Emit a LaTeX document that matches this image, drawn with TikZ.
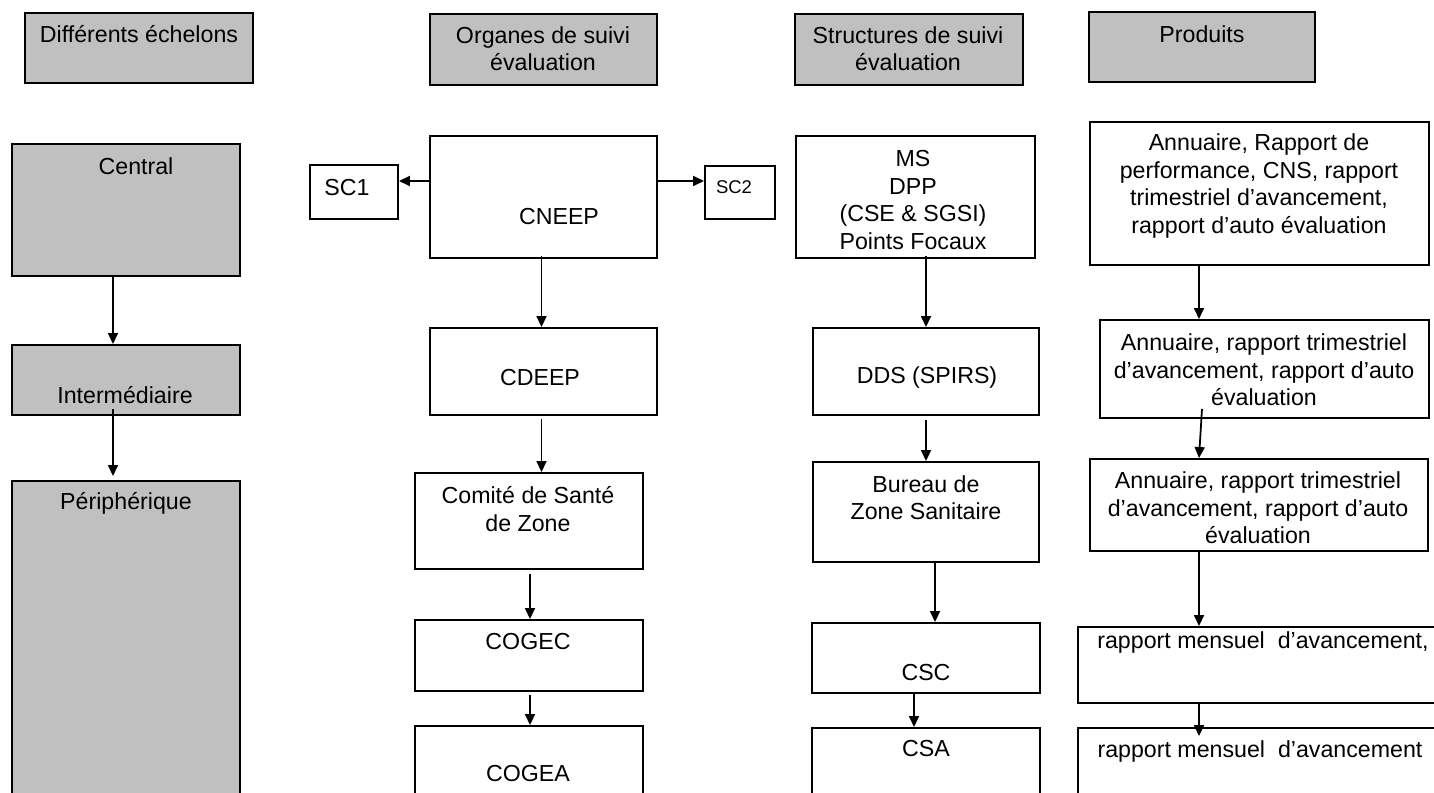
\documentclass[tikz,border=0pt]{standalone}
\usepackage{fontspec}
\setmainfont{Liberation Sans}
\usepackage{xcolor}
\usepackage{tikz}
\usetikzlibrary{arrows.meta,positioning,calc,fit}
\definecolor{hgray}{HTML}{C0C0C0}
\tikzset{
  % plain framed box, grey ones for headers and levels
  box/.style   = {rectangle, draw=black, fill=#1, line width=1.1pt, inner sep=0pt},
  box/.default = white,
  lbl/.style   = {font=\fontsize{13.2}{15.6}\selectfont, align=center, inner sep=0pt},
  small/.style = {font=\fontsize{10.5}{12.5}\selectfont, inner sep=0pt},
  arr/.style   = {-{Triangle[length=2.2mm,width=2mm]}, line width=1pt},
}
\begin{document}
\begin{tikzpicture}[x=0.02cm,y=-0.02cm]
\useasboundingbox (0,0) rectangle (1434,793);
\clip (0,0) rectangle (1434,793);
% column headers
\node[box=hgray, fit={(25,13) (253,83)}]   (h1) {};
\node[box=hgray, fit={(430,14) (657,85)}]  (h2) {};
\node[box=hgray, fit={(795,14) (1023,85)}] (h3) {};
\node[box=hgray, fit={(1089,12) (1315,82)}] (h4) {};
\node[lbl] (h1t) at (139,34) {Différents échelons};
\node[lbl] (h2t) at (543,49) {Organes de suivi\\évaluation};
\node[lbl] (h3t) at (908,49) {Structures de suivi\\évaluation};
\node[lbl] (h4t) at (1202,34) {Produits};
% levels
\node[box=hgray, fit={(12,144) (240,276)}] (central) {};
\node[box=hgray, fit={(12,345) (240,415)}] (inter) {};
\node[box=hgray, fit={(12,481) (240,800)}] (peri) {};
\node[lbl] (centralt) at (136,166) {Central};
\node[lbl] (intert) at (125,395) {Intermédiaire};
\node[lbl] (perit) at (126,503) {Périphérique};
% organes
\node[box, fit={(310,165) (398,219)}]  (sc1) {};
\node[box, fit={(430,136) (657,258)}]  (cneep) {};
\node[box, fit={(705,166) (775,219)}]  (sc2) {};
\node[box, fit={(430,328) (657,415)}]  (cdeep) {};
\node[box, fit={(415,473) (643,569)}]  (comite) {};
\node[box, fit={(415,620) (643,691)}]  (cogec) {};
\node[box, fit={(415,726) (643,800)}]  (cogea) {};
\node[lbl] (sc1t) at (347,188) {SC1};
\node[lbl] (cneept) at (559,217) {CNEEP};
\node[small] (sc2t) at (734,187) {SC2};
\node[lbl] (cdeept) at (540,378) {CDEEP};
\node[lbl] (comitet) at (528,509) {Comité de Santé\\de Zone};
\node[lbl] (cogect) at (528,642) {COGEC};
\node[lbl] (cogeat) at (528,774) {COGEA};
% structures
\node[box, fit={(796,136) (1035,258)}] (ms) {};
\node[box, fit={(813,328) (1039,415)}] (dds) {};
\node[box, fit={(813,462) (1039,562)}] (bureau) {};
\node[box, fit={(812,623) (1040,693)}] (csc) {};
\node[box, fit={(812,728) (1040,800)}] (csa) {};
\node[lbl] (mst) at (913,200) {MS\\DPP\\(CSE \& SGSI)\\Points Focaux};
\node[lbl] (ddst) at (927,378) {DDS (SPIRS)};
\node[lbl] (bureaut) at (926,498) {Bureau de\\Zone Sanitaire};
\node[lbl] (csct) at (926,673) {CSC};
\node[lbl] (csat) at (926,749) {CSA};
% produits
\node[box, fit={(1090,122) (1429,265)}] (p1) {};
\node[box, fit={(1100,320) (1429,418)}] (p2) {};
\node[box, fit={(1090,459) (1428,551)}] (p3) {};
\node[box, fit={(1078,627) (1445,703)}] (p4) {};
\node[box, fit={(1078,728) (1445,800)}] (p5) {};
\node[lbl] (p1t) at (1259,186) {Annuaire, Rapport de\\performance, CNS, rapport\\trimestriel d’avancement,\\rapport d’auto évaluation};
\node[lbl] (p2t) at (1264,370) {Annuaire, rapport trimestriel\\d’avancement, rapport d’auto\\évaluation};
\node[lbl] (p3t) at (1258,508) {Annuaire, rapport trimestriel\\d’avancement, rapport d’auto\\évaluation};
\node[lbl] (p4t) at (1263,643) {rapport mensuel~ d’avancement,};
\node[lbl] (p5t) at (1260,752) {rapport mensuel~ d’avancement};
% connectors
\coordinate (pcol) at (1199,0);
\path (cneep.west) ++(0,-16) coordinate (lvl);
\draw[arr] ($(central.south)+(-13,0)$) -- ($(inter.north)+(-13,0)$);
\draw[arr] ($(inter.south)+(-13,-7)$) -- ($(peri.north)+(-13,-4)$);
\draw[arr] (lvl) -- (lvl -| sc1.east);
\draw[arr] (lvl -| cneep.east) -- (lvl -| sc2.west);
\draw[arr] ($(cneep.south)+(-2,-3)$) -- ($(cdeep.north)+(-2,0)$);
\draw[arr] ($(cdeep.south)+(-2,3)$) -- ($(cdeep.south |- comite.north)+(-2,0)$);
\draw[arr] ($(comite.south)+(1,4)$) -- ($(cogec.north)+(1,0)$);
\draw[arr] ($(cogec.south)+(1,3)$) -- ($(cogea.north)+(1,0)$);
\draw[arr] ($(ms.south -| dds.north)+(0,-3)$) -- (dds.north);
\draw[arr] ($(dds.south)+(0,4)$) -- (bureau.north);
\draw[arr] ($(bureau.south)+(9,0)$) -- ($(csc.north)+(9,0)$);
\draw[arr] ($(csc.south)+(-12,0)$) -- ($(csa.north)+(-12,0)$);
\draw[arr] (p1.south -| pcol) -- (p2.north -| pcol);
\draw[arr] ($(p2.south -| pcol)+(3,-10)$) -- (p3.north -| pcol);
\draw[arr] (p3.south -| pcol) -- (p4.north -| pcol);
\draw[arr] (p4.south -| pcol) -- ($(p5.north -| pcol)+(0,9)$);
\end{tikzpicture}
\end{document}
